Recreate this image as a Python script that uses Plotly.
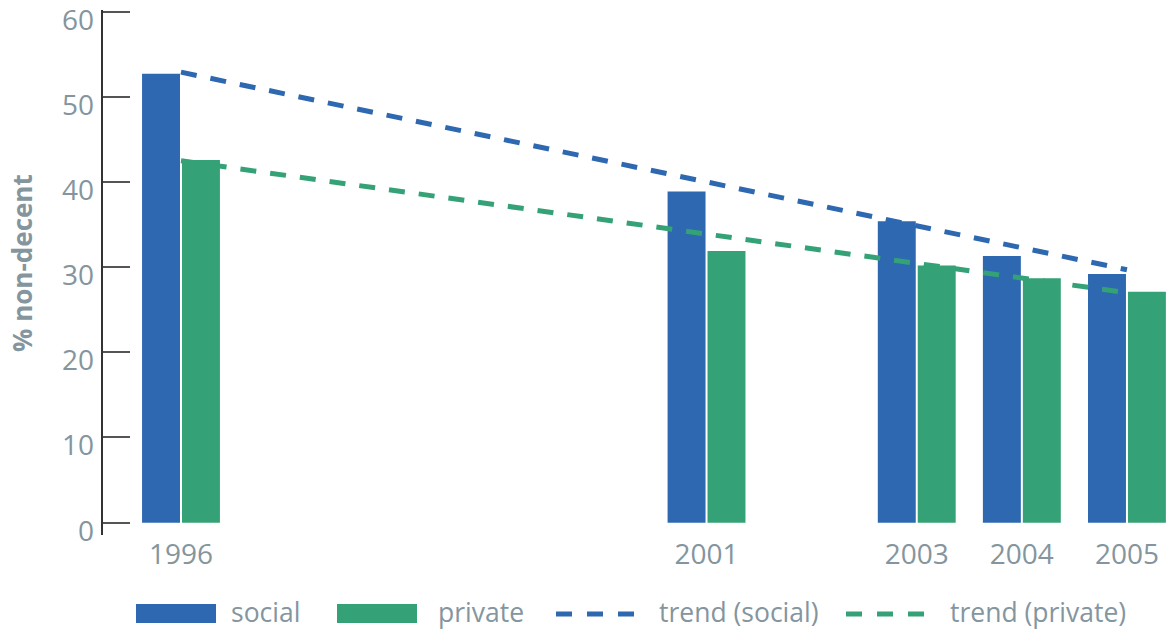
import plotly.graph_objects as go

years = [1996, 2001, 2003, 2004, 2005]
social = [52.7, 38.9, 35.4, 31.3, 29.2]
private = [42.6, 31.9, 30.2, 28.7, 27.1]
trend_years = [1996, 2005]
trend_social = [52.9, 29.7]
trend_private = [42.5, 27.0]
y_ticks = [0, 10, 20, 30, 40, 50, 60]

BLUE = "#2d68b0"
GREEN = "#34a276"
GRAY = "#84959e"
FONT = "Open Sans"

W, H = 1167, 631
L, R, T, B = 103, 0, 10, 96
PW, PH = W - L - R, H - T - B
Y_RANGE = [-1.45, 60.2]
LABEL_SHIFT = 0.95  # labels sit slightly below their tick marks (in data units)


def px(x):
    return (x - L) / PW


def py(y):
    return (H - B - y) / PH


fig = go.Figure()
fig.add_trace(go.Bar(x=years, y=social, name="social", marker_color=BLUE,
                     marker_line_width=0, showlegend=False))
fig.add_trace(go.Bar(x=years, y=private, name="private", marker_color=GREEN,
                     marker_line_width=0, showlegend=False))
fig.add_trace(go.Scatter(x=trend_years, y=trend_social, mode="lines", name="trend (social)",
                         line=dict(color=BLUE, width=5, dash="16px,14px"), showlegend=False))
fig.add_trace(go.Scatter(x=trend_years, y=trend_private, mode="lines", name="trend (private)",
                         line=dict(color=GREEN, width=5, dash="16px,14px"), showlegend=False))
# invisible helper trace so the label-only axis (yaxis2) gets drawn
fig.add_trace(go.Scatter(x=years, y=social, yaxis="y2", mode="lines", opacity=0,
                         line=dict(width=0), hoverinfo="skip", showlegend=False))

shapes = [
    dict(type="rect", xref="paper", yref="paper", x0=px(136), x1=px(216), y0=py(623), y1=py(604),
         fillcolor=BLUE, line_width=0),
    dict(type="rect", xref="paper", yref="paper", x0=px(337), x1=px(417), y0=py(623), y1=py(604),
         fillcolor=GREEN, line_width=0),
    dict(type="line", xref="paper", yref="paper", x0=px(556), x1=px(635), y0=py(614), y1=py(614),
         line=dict(color=BLUE, width=5, dash="16px,15px")),
    dict(type="line", xref="paper", yref="paper", x0=px(846), x1=px(925), y0=py(614), y1=py(614),
         line=dict(color=GREEN, width=5, dash="16px,15px")),
]
legend_texts = [("social", 229), ("private", 436), ("trend (social)", 657), ("trend (private)", 948)]
annotations = [
    dict(text=t, xref="paper", yref="paper", x=px(xx), y=py(612), xanchor="left", yanchor="middle",
         showarrow=False, font=dict(family=FONT, size=26.5, color=GRAY))
    for t, xx in legend_texts
]
annotations.append(dict(text="<b>% non-decent</b>", xref="paper", yref="paper", x=px(22), y=py(263),
                        xanchor="center", yanchor="middle", textangle=-90, showarrow=False,
                        font=dict(family=FONT, size=26, color=GRAY)))

fig.update_layout(
    width=W, height=H,
    margin=dict(l=L, r=R, t=T, b=B, pad=0, autoexpand=False),
    paper_bgcolor="white", plot_bgcolor="white",
    barmode="group", bargap=0.24, bargroupgap=0.05,
    font=dict(family=FONT, color=GRAY),
    shapes=shapes, annotations=annotations,
    showlegend=False,
    xaxis=dict(range=[1995.258, 2005.381], tickvals=years, ticktext=[str(y) for y in years],
               showgrid=False, zeroline=False, showline=False, ticks="",
               ticklabeloverflow="allow", automargin=False,
               tickfont=dict(family=FONT, size=28, color=GRAY)),
    yaxis=dict(range=Y_RANGE, tickvals=y_ticks, showgrid=False, zeroline=False,
               showline=True, linecolor="#333333", linewidth=1.5,
               ticks="inside", ticklen=27, tickwidth=1.5, tickcolor="#555555",
               showticklabels=False, automargin=False),
    yaxis2=dict(overlaying="y", side="left", anchor="x",
                range=[Y_RANGE[0] + LABEL_SHIFT, Y_RANGE[1] + LABEL_SHIFT],
                tickvals=y_ticks, showgrid=False, zeroline=False, showline=False, ticks="",
                ticklabelstandoff=8, ticklabeloverflow="allow", automargin=False,
                tickfont=dict(family=FONT, size=28, color=GRAY)),
)

fig.write_html("out.html", config={"displayModeBar": False},
               post_script="document.body.style.margin='0';document.body.style.overflow='hidden';")
